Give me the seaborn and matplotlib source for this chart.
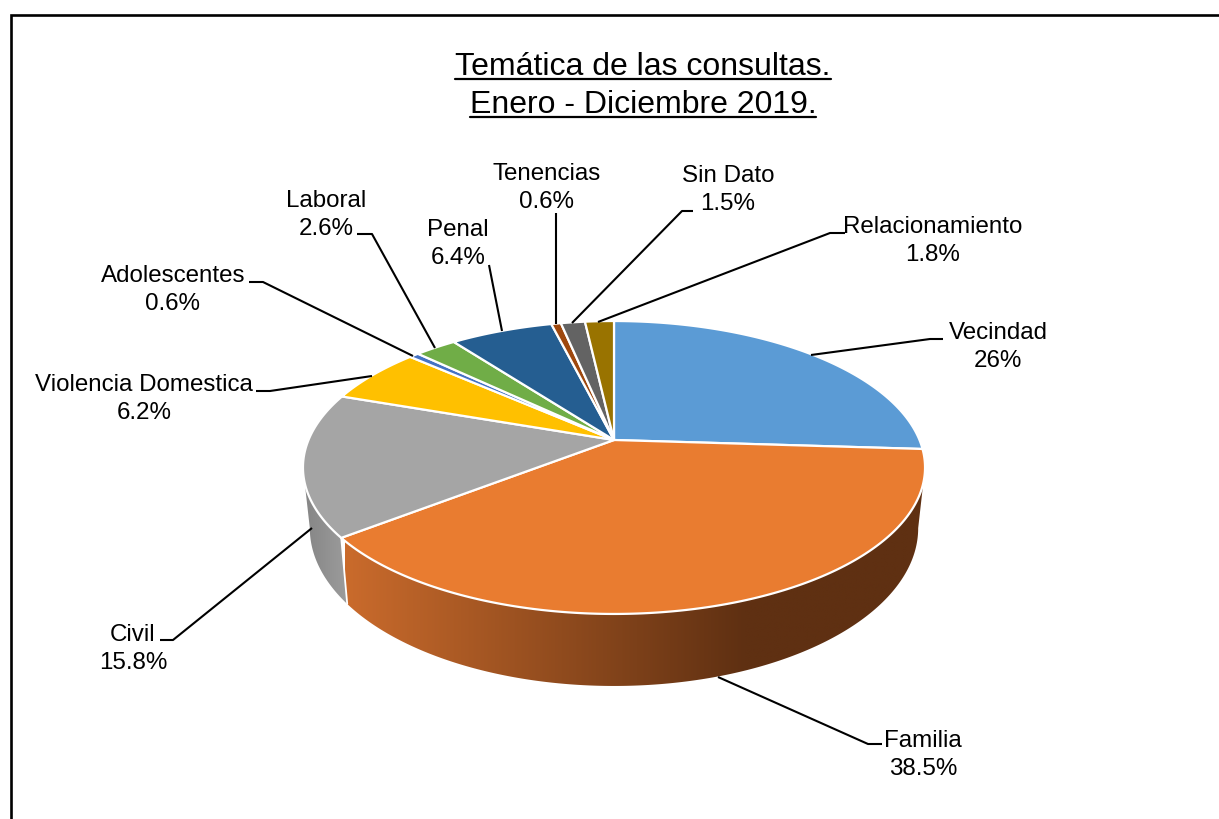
import numpy as np
import pandas as pd
import seaborn as sns
import matplotlib
matplotlib.use("Agg")
import matplotlib.pyplot as plt
from matplotlib.patches import Polygon

# ---- data ----
categories = ["Vecindad", "Familia", "Civil", "Violencia Domestica", "Adolescentes",
              "Laboral", "Penal", "Tenencias", "Sin Dato", "Relacionamiento"]
values = [26, 38.5, 15.8, 6.2, 0.6, 2.6, 6.4, 0.6, 1.5, 1.8]
value_labels = ["26%", "38.5%", "15.8%", "6.2%", "0.6%", "2.6%", "6.4%", "0.6%", "1.5%", "1.8%"]
title_lines = ["Temática de las consultas.", "Enero - Diciembre 2019."]

# ---- style ----
colors = ["#5B9BD5", "#E97C30", "#A5A5A5", "#FFC000", "#4472C4",
          "#70AD47", "#255E91", "#9E480E", "#636363", "#997300"]
label_xy = [(998, 347), (923, 755), (133, 649), (144, 399), (173, 290),
            (326, 215), (458, 244), (547, 188), (728, 190), (933, 241)]
leaders = [
    [(943, 339), (930, 339), (811, 355)],
    [(882, 744), (868, 744), (718, 677)],
    [(160, 640), (173, 640), (312, 528)],
    [(256, 391), (270, 391), (372, 376)],
    [(249, 282), (263, 282), (413, 356)],
    [(357, 234), (372, 234), (435, 348)],
    [(489, 265), (502, 331)],
    [(556, 213), (556, 324)],
    [(693, 211), (682, 211), (572, 323)],
    [(845, 233), (830, 233), (598, 322)],
]
CX, CY, BX, AY, K, DEPTH, BOTTOM_SCALE = 614, 440, 305.5, 141.3, 0.1877, 58.5, 0.978

sns.set_theme(style="white", rc={"axes.facecolor": "white", "figure.facecolor": "white"})
plt.rcParams["font.family"] = ["Liberation Sans", "DejaVu Sans"]

df = pd.DataFrame({"categoria": categories, "valor": values, "etiqueta": value_labels, "color": colors})
df["fin"] = df["valor"].cumsum() / df["valor"].sum() * 2 * np.pi
df["inicio"] = df["fin"].shift(fill_value=0.0)


def top(theta):
    """Perspective projection of a clockwise-from-12 angle on the tilted disc."""
    X, Y = np.sin(theta), np.cos(theta)
    w = 1 + K * Y
    return CX + BX * X / w, CY - AY * Y / w


def bottom(theta):
    X, Y = np.sin(theta), np.cos(theta)
    w = 1 + K * Y
    return CX + BOTTOM_SCALE * BX * X / w, CY - AY * Y / w + DEPTH / w


fig = plt.figure(figsize=(12.19, 8.19), dpi=100)
ax = fig.add_axes([0, 0, 1, 1])

# frame (open at right and bottom, cropped in the source)
ax.plot([10.5, 10.5, 1219], [819, 15, 15], color="black", lw=1.9, solid_joinstyle="miter", zorder=1)

# side wall: horizontal gradients clipped to the wall outline, limited by the disc's silhouette
tangent_right = np.arccos(-K)
tangent_left = 2 * np.pi - tangent_right
side_styles = {
    "Familia": (["#CA6B2C", "#5F3012"], 345, 745, 960),
    "Civil": (["#858585", "#9C9C9C"], 303, 348, 348),
}
for name, (stops, x0, x1, x_end) in side_styles.items():
    row = df[df["categoria"] == name].iloc[0]
    thetas = np.linspace(max(row["inicio"], tangent_right), min(row["fin"], tangent_left), 300)
    xt, yt = top(thetas)
    xb, yb = bottom(thetas)
    outline = Polygon(np.c_[np.r_[xt, xb[::-1]], np.r_[yt, yb[::-1]]], closed=True,
                      transform=ax.transData, facecolor="none", edgecolor="none")
    ax.add_patch(outline)
    ramp = np.array(sns.blend_palette(stops, 256))[None, :, :]
    n_flat = int(256 * (x_end - x1) / (x1 - x0))
    if n_flat:
        ramp = np.concatenate([ramp, np.repeat(ramp[:, -1:, :], n_flat, axis=1)], axis=1)
    im = ax.imshow(ramp, extent=(x0, x_end, 700, 440), aspect="auto", interpolation="bilinear", zorder=2)
    im.set_clip_path(outline)

ax.set_xlim(0, 1219)
ax.set_ylim(819, 0)
ax.axis("off")

# separator on the side wall between Familia and Civil
sep = df.loc[df["categoria"] == "Familia", "fin"].iloc[0]
ax.plot([top(sep)[0], bottom(sep)[0]], [top(sep)[1], bottom(sep)[1]], color="white", lw=1.3, zorder=3)

# top face
for _, row in df.iterrows():
    thetas = np.linspace(row["inicio"], row["fin"], max(4, int(np.degrees(row["fin"] - row["inicio"]) * 2)))
    xs, ys = top(thetas)
    ax.fill(np.r_[CX, xs], np.r_[CY, ys], facecolor=row["color"], edgecolor="white",
            lw=1.6, joinstyle="round", zorder=4)

# leader lines
for pts in leaders:
    px, py = zip(*pts)
    ax.plot(px, py, color="black", lw=1.5, zorder=5, solid_capstyle="butt")

# labels
for (x, y), name, lab in zip(label_xy, df["categoria"], df["etiqueta"]):
    ax.text(x, y, f"{name}\n{lab}", ha="center", va="center", fontsize=17.35,
            color="black", linespacing=1.37, zorder=6)

# title with underline
fig.canvas.draw()
renderer = fig.canvas.get_renderer()
for line, ybase in zip(title_lines, [75, 113]):
    t = ax.text(643, ybase, line, ha="center", va="baseline", fontsize=23, color="black", zorder=6)
    bb = t.get_window_extent(renderer)
    ax.plot([bb.x0, bb.x1], [ybase + 4, ybase + 4], color="black", lw=1.6, zorder=6)

fig.savefig("out.png", dpi=100)
